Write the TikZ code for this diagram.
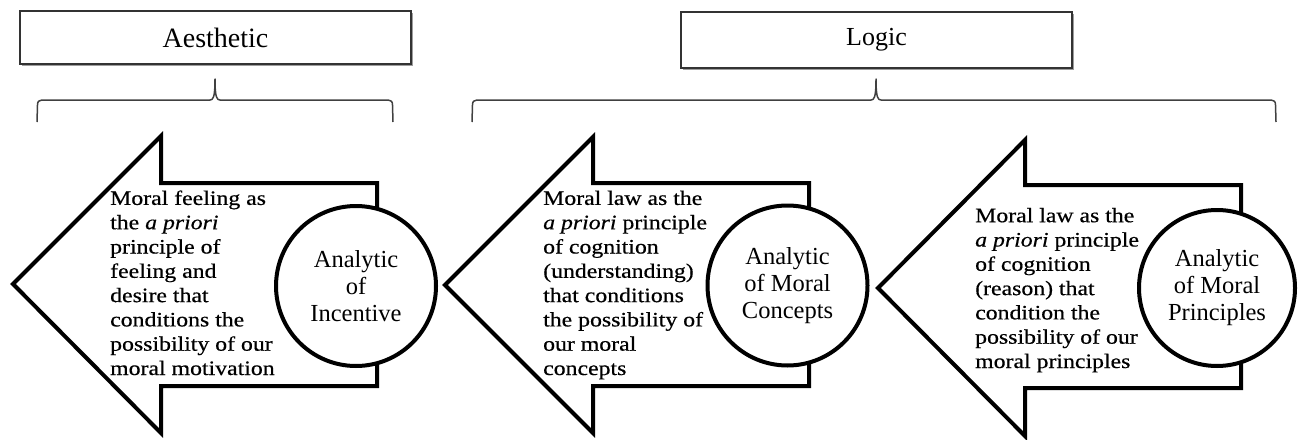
\documentclass[tikz,border=0pt]{standalone}
\usepackage{fontspec}
\setmainfont{Liberation Serif}
\newfontfamily\bodyfont[FakeStretch=1.16,FakeBold=0.5]{Liberation Serif}
\usetikzlibrary{shadows}

\begin{document}
\begin{tikzpicture}[x=1pt,y=-1pt,
  labelbox/.style={draw=black!80, line width=1.4pt, fill=white,
    minimum width=391pt, minimum height=#1, inner sep=0pt,
    drop shadow={shadow xshift=1.6pt, shadow yshift=-1.6pt, opacity=0.55, fill=black!70}},
  brace/.style={draw=black!75, line width=1.5pt, line join=round},
  bigarrow/.style={draw=black, line width=4pt, fill=white, line join=miter, miter limit=10},
  disc/.style={circle, draw=black, line width=4pt, fill=white, inner sep=0pt,
    minimum size=#1, align=center, font=\fontsize{24.5}{27}\selectfont},
  bodytext/.style={align=left, inner sep=0pt,
    font=\bodyfont\fontsize{20.5}{24.3}\selectfont},
]
\useasboundingbox (0,0) rectangle (1306,439);

% headings
\node[labelbox=53pt, font=\fontsize{28}{32}\selectfont] (aes) at (215.5,37.5) {Aesthetic};
\node[labelbox=56pt, font=\fontsize{26}{30}\selectfont] (log) at (876.5,40) {Logic};

% curly braces under the headings
\coordinate (aesbrace) at (215,79);
\coordinate (logbrace) at (876,79);
\draw[brace] (37,122) -- (37.5,105) .. controls (37.5,101.5) and (39,100) .. (42,100)
  -- (210,100) .. controls (213,100) and (215,98) .. (aesbrace)
  .. controls (215,98) and (217,100) .. (220,100)
  -- (388,100) .. controls (391,100) and (392.5,101.5) .. (392.5,105) -- (393,122);
\draw[brace] (472,122) -- (472.5,105) .. controls (472.5,101.5) and (474,100) .. (477,100)
  -- (871,100) .. controls (874,100) and (876,98) .. (logbrace)
  .. controls (876,98) and (878,100) .. (881,100)
  -- (1271,100) .. controls (1274,100) and (1275.5,101.5) .. (1275.5,105) -- (1276,122);

% block arrows
\draw[bigarrow] (13,284) -- (161,136) -- (161,183) -- (377,183) -- (377,386)
  -- (161,386) -- (161,433) -- cycle;
\draw[bigarrow] (445,285) -- (593,137) -- (593,183) -- (809,183) -- (809,386)
  -- (593,386) -- (593,433) -- cycle;
\draw[bigarrow] (878,288) -- (1025,140) -- (1025,185) -- (1241,185) -- (1241,388)
  -- (1025,388) -- (1025,436) -- cycle;

% circles
\node[disc=160pt] (c1) at (356,286) {Analytic\\of\\Incentive};
\node[disc=160pt] (c2) at (787.5,285.5) {Analytic\\of Moral\\Concepts};
\node[disc=156pt] (c3) at (1217,288) {Analytic\\of Moral\\Principles};

% descriptions (base anchor sits on the last line)
\node[bodytext, anchor=base west] (t1) at (110,375)
  {Moral feeling as\\the \textit{a priori}\\principle of\\feeling and\\desire that\\conditions the\\possibility of our\\moral motivation};
\node[bodytext, anchor=base west] (t2) at (543,375)
  {Moral law as the\\\textit{a priori} principle\\of cognition\\(understanding)\\that conditions\\the possibility of\\our moral\\concepts};
\node[bodytext, anchor=base west] (t3) at (975,368)
  {Moral law as the\\\textit{a priori} principle\\of cognition\\(reason) that\\condition the\\possibility of our\\moral principles};
\end{tikzpicture}
\end{document}
